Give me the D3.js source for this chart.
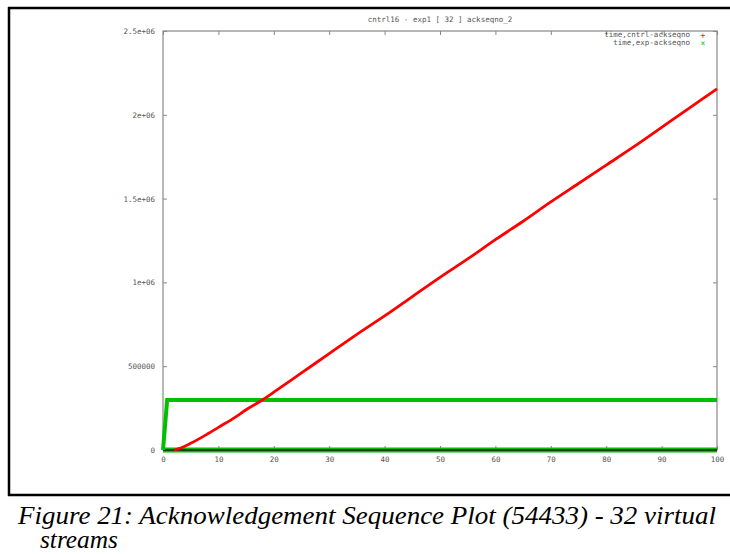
<!DOCTYPE html>
<html><head><meta charset="utf-8">
<script src="https://cdn.jsdelivr.net/npm/d3@7/dist/d3.min.js"></script>
<style>body{margin:0;background:#fff}svg{display:block}
.cap{font-family:"Liberation Serif";font-style:italic;font-size:26px;fill:#000}</style>
</head><body>
<svg id="c" width="730" height="554"></svg>
<script>
const title = "cntrl16 - exp1 [ 32 ] ackseqno_2";
const caption1 = "Figure 21: Acknowledgement Sequence Plot (54433) - 32 virtual";
const caption2 = "streams";
const seriesNames = ["time,cntrl-ackseqno", "time,exp-ackseqno"];
const xTicks = [0,10,20,30,40,50,60,70,80,90,100];
const yTicks = [0,500000,1000000,1500000,2000000,2500000];
const yTickLabels = ["0","500000","1e+06","1.5e+06","2e+06","2.5e+06"];
// red series: time, cntrl-ackseqno
const redX = [2,3,5,8,10,13,15,18,20,25,30,35,40,45,50,55,60,65,70,75,80,85,90,95,100];
const redY = [0,10000,40000,95000,135000,195000,240000,300000,345000,460000,575000,690000,800000,915000,1030000,1140000,1255000,1365000,1480000,1590000,1700000,1810000,1925000,2040000,2155000];
// green series: time, exp-ackseqno (upper track and zero track)
const greenUpX = [0,0.75,100];
const greenUpY = [0,298000,298000];
const greenZeroX = [0,100];
const greenZeroY = [0,0];

const svg = d3.select("#c");
svg.append("line").attr("x1",8).attr("x2",730).attr("y1",8).attr("y2",8).attr("stroke","#000").attr("stroke-width",2.5);
svg.append("line").attr("x1",9).attr("x2",9).attr("y1",7).attr("y2",496).attr("stroke","#000").attr("stroke-width",2.5);
svg.append("line").attr("x1",8).attr("x2",730).attr("y1",495).attr("y2",495).attr("stroke","#000").attr("stroke-width",2.5);

const L=163, R=717, T=31, B=450;
const x = d3.scaleLinear().domain([0,100]).range([L,R]);
const y = d3.scaleLinear().domain([0,2500000]).range([B,T]);
const g = svg.append("g");
const fontF = "DejaVu Sans Mono, monospace";
const tickCol = "#555";

const ax = g.append("g").attr("transform",`translate(0,${B})`).call(d3.axisBottom(x).tickValues(xTicks).tickSize(-4).tickPadding(7).tickFormat(d3.format("d")));
const axT = g.append("g").attr("transform",`translate(0,${T})`).call(d3.axisTop(x).tickValues(xTicks).tickSize(-4).tickFormat(""));
const ay = g.append("g").attr("transform",`translate(${L},0)`).call(d3.axisLeft(y).tickValues(yTicks).tickSize(-4).tickPadding(8).tickFormat((d,i)=>yTickLabels[i]));
const ayR = g.append("g").attr("transform",`translate(${R},0)`).call(d3.axisRight(y).tickValues(yTicks).tickSize(-4).tickFormat(""));
[ax,axT,ay,ayR].forEach(a=>{
  a.select(".domain").remove();
  a.selectAll(".tick line").attr("stroke","#888");
  a.selectAll("text").attr("fill",tickCol).style("font-family",fontF).style("font-size","7.5px");
});
g.append("rect").attr("x",L).attr("y",T).attr("width",R-L).attr("height",B-T).attr("fill","none").attr("stroke","#888").attr("stroke-width",1.2);

svg.append("text").attr("x",(L+R)/2).attr("y",22).attr("text-anchor","middle").attr("fill",tickCol)
  .style("font-family",fontF).style("font-size","7.5px").text(title);

const legY=[37,45];
seriesNames.forEach((n,i)=>{
  svg.append("text").attr("x",690).attr("y",legY[i]).attr("text-anchor","end").attr("fill",tickCol)
    .style("font-family",fontF).style("font-size","7.5px").text(n);
});
svg.append("text").attr("x",703).attr("y",legY[0]+1).attr("text-anchor","middle").attr("fill","#f00").style("font-family",fontF).style("font-size","8px").text("+");
svg.append("text").attr("x",703).attr("y",legY[1]+1).attr("text-anchor","middle").attr("fill","#0c0").style("font-family",fontF).style("font-size","8px").text("×");

const line = d3.line().x(d=>x(d[0])).y(d=>y(d[1]));
g.append("path").datum(greenZeroX.map((v,i)=>[v,greenZeroY[i]])).attr("d",line).attr("fill","none").attr("stroke","#00c000").attr("stroke-width",5);
g.append("path").datum(greenZeroX.map((v,i)=>[v,greenZeroY[i]])).attr("d",line).attr("fill","none").attr("stroke","#114411").attr("stroke-width",2);
g.append("path").datum(greenUpX.map((v,i)=>[v,greenUpY[i]])).attr("d",line).attr("fill","none").attr("stroke","#00c000").attr("stroke-width",4).attr("stroke-linejoin","miter");
g.append("path").datum(redX.map((v,i)=>[v,redY[i]])).attr("d",line.curve(d3.curveMonotoneX)).attr("fill","none").attr("stroke","#f00").attr("stroke-width",2.8);

svg.append("text").attr("class","cap").attr("x",18).attr("y",524).attr("textLength",698).attr("lengthAdjust","spacingAndGlyphs").text(caption1);
svg.append("text").attr("class","cap").attr("x",40).attr("y",548).attr("textLength",78).attr("lengthAdjust","spacingAndGlyphs").text(caption2);
</script>
</body></html>
